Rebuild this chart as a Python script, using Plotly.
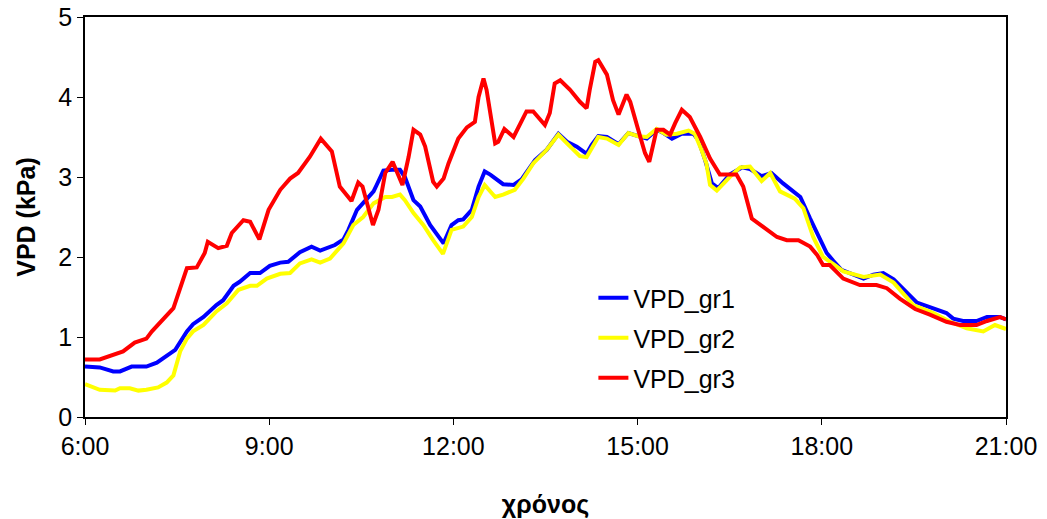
import plotly.graph_objects as go

# ---- data (hours of day, VPD in kPa) ----
t_gr1 = [6.00, 6.24, 6.46, 6.57, 6.76, 7.00, 7.17, 7.47, 7.66, 7.76, 7.93, 8.14, 8.25, 8.42, 8.52,
         8.69, 8.85, 9.01, 9.18, 9.31, 9.50, 9.69, 9.83, 10.07, 10.21, 10.29, 10.43, 10.53, 10.70,
         10.75, 10.86, 11.00, 11.13, 11.21, 11.35, 11.46, 11.62, 11.84, 11.97, 12.08, 12.16, 12.30,
         12.41, 12.51, 12.60, 12.81, 12.98, 13.11, 13.33, 13.52, 13.71, 13.85, 14.01, 14.17, 14.25,
         14.36, 14.50, 14.69, 14.85, 15.01, 15.15, 15.31, 15.42, 15.56, 15.72, 15.91, 15.99, 16.10,
         16.21, 16.31, 16.50, 16.70, 16.83, 17.02, 17.18, 17.37, 17.65, 17.81, 18.08, 18.19, 18.32,
         18.68, 18.84, 19.00, 19.17, 19.55, 19.82, 20.03, 20.14, 20.30, 20.52, 20.69, 20.90, 21.00]
vpd_gr1 = [0.63, 0.62, 0.57, 0.57, 0.63, 0.63, 0.68, 0.84, 1.07, 1.16, 1.25, 1.40, 1.46, 1.64, 1.69,
           1.80, 1.80, 1.89, 1.93, 1.94, 2.06, 2.13, 2.08, 2.15, 2.22, 2.34, 2.59, 2.67, 2.82,
           2.90, 3.08, 3.09, 3.09, 3.00, 2.71, 2.63, 2.40, 2.17, 2.40, 2.46, 2.47, 2.59,
           2.88, 3.07, 3.03, 2.91, 2.90, 2.97, 3.21, 3.34, 3.54, 3.44, 3.38, 3.29, 3.40,
           3.51, 3.50, 3.41, 3.55, 3.51, 3.48, 3.59, 3.55, 3.48, 3.54, 3.54, 3.46, 3.21,
           2.92, 2.86, 3.03, 3.12, 3.10, 3.01, 3.05, 2.92, 2.75, 2.48, 2.05, 1.95, 1.84,
           1.73, 1.78, 1.80, 1.72, 1.43, 1.36, 1.30, 1.23, 1.20, 1.20, 1.25, 1.25, 1.22]

t_gr2 = [6.00, 6.24, 6.49, 6.57, 6.73, 6.87, 7.00, 7.19, 7.33, 7.44, 7.55, 7.66, 7.76, 7.93, 8.14,
         8.31, 8.50, 8.69, 8.80, 8.96, 9.18, 9.34, 9.50, 9.69, 9.83, 9.99, 10.21, 10.37, 10.53,
         10.70, 10.89, 11.00, 11.13, 11.21, 11.35, 11.51, 11.67, 11.83, 11.97, 12.16, 12.30, 12.41,
         12.51, 12.68, 12.81, 13.00, 13.14, 13.30, 13.52, 13.71, 13.85, 14.06, 14.17, 14.36, 14.50,
         14.69, 14.85, 15.01, 15.15, 15.31, 15.47, 15.64, 15.83, 15.93, 16.04, 16.12, 16.18, 16.29,
         16.50, 16.67, 16.83, 17.02, 17.16, 17.32, 17.56, 17.70, 17.86, 18.02, 18.19, 18.35, 18.68,
         18.95, 19.17, 19.49, 19.82, 20.09, 20.36, 20.63, 20.82, 21.00]
vpd_gr2 = [0.41, 0.34, 0.33, 0.36, 0.36, 0.33, 0.34, 0.37, 0.43, 0.52, 0.82, 0.98, 1.07, 1.15, 1.32,
           1.42, 1.59, 1.64, 1.64, 1.73, 1.79, 1.80, 1.92, 1.97, 1.93, 1.98, 2.17, 2.40, 2.50,
           2.67, 2.75, 2.75, 2.78, 2.71, 2.55, 2.40, 2.21, 2.04, 2.34, 2.38, 2.50, 2.75,
           2.90, 2.75, 2.78, 2.84, 2.98, 3.17, 3.34, 3.53, 3.42, 3.26, 3.25, 3.50, 3.48,
           3.40, 3.55, 3.51, 3.50, 3.60, 3.53, 3.54, 3.58, 3.54, 3.34, 3.17, 2.90, 2.83,
           3.00, 3.12, 3.13, 2.95, 3.05, 2.82, 2.73, 2.61, 2.25, 2.00, 1.91, 1.82, 1.75,
           1.78, 1.68, 1.40, 1.30, 1.19, 1.11, 1.07, 1.15, 1.10]

t_gr3 = [6.00, 6.24, 6.62, 6.81, 7.00, 7.09, 7.44, 7.55, 7.66, 7.82, 7.95, 8.00, 8.17, 8.31, 8.39,
         8.58, 8.69, 8.84, 8.99, 9.18, 9.34, 9.47, 9.66, 9.84, 10.02, 10.15, 10.34, 10.45, 10.52,
         10.69, 10.78, 10.89, 11.01, 11.17, 11.27, 11.35, 11.46, 11.54, 11.67, 11.73, 11.84, 11.92,
         12.08, 12.22, 12.35, 12.41, 12.49, 12.54, 12.68, 12.73, 12.83, 12.98, 13.19, 13.30, 13.49,
         13.57, 13.65, 13.74, 13.90, 14.06, 14.17, 14.22, 14.31, 14.36, 14.50, 14.60, 14.69, 14.82,
         14.88, 15.01, 15.12, 15.19, 15.31, 15.42, 15.53, 15.61, 15.72, 15.85, 16.02, 16.18, 16.34,
         16.61, 16.72, 16.86, 17.05, 17.27, 17.43, 17.62, 17.81, 17.92, 18.02, 18.13, 18.35, 18.62,
         18.89, 19.06, 19.27, 19.52, 19.76, 20.03, 20.25, 20.52, 20.69, 20.90, 21.00]
vpd_gr3 = [0.72, 0.72, 0.82, 0.93, 0.98, 1.07, 1.36, 1.63, 1.86, 1.87, 2.05, 2.19, 2.11, 2.14, 2.30,
           2.46, 2.44, 2.22, 2.59, 2.84, 2.98, 3.05, 3.25, 3.48, 3.32, 2.88, 2.70, 2.93, 2.88,
           2.40, 2.59, 3.05, 3.19, 2.90, 3.25, 3.59, 3.53, 3.38, 2.94, 2.88, 2.98, 3.17,
           3.48, 3.62, 3.69, 4.00, 4.23, 4.09, 3.42, 3.44, 3.60, 3.50, 3.82, 3.82, 3.65,
           3.80, 4.17, 4.21, 4.09, 3.94, 3.86, 4.09, 4.44, 4.46, 4.28, 3.96, 3.78, 4.03,
           3.94, 3.59, 3.30, 3.19, 3.59, 3.59, 3.53, 3.67, 3.84, 3.75, 3.50, 3.23, 3.03,
           3.03, 2.88, 2.48, 2.38, 2.25, 2.21, 2.21, 2.13, 2.03, 1.90, 1.90, 1.73, 1.65,
           1.65, 1.61, 1.48, 1.35, 1.28, 1.19, 1.15, 1.15, 1.20, 1.25, 1.22]

tick_vals = [6, 9, 12, 15, 18, 21]
tick_text = ["6:00", "9:00", "12:00", "15:00", "18:00", "21:00"]
series_names = ["VPD_gr1", "VPD_gr2", "VPD_gr3"]
series_colors = ["#0000FF", "#FFFF00", "#FF0000"]

FONT = "Liberation Sans, Arial, sans-serif"

fig = go.Figure()
data = [(t_gr1, vpd_gr1), (t_gr2, vpd_gr2), (t_gr3, vpd_gr3)]
legends = ["legend", "legend2", "legend3"]
for (t, v), name, col, lg in zip(data, series_names, series_colors, legends):
    fig.add_trace(go.Scatter(x=t, y=v, mode="lines", name=name, legend=lg, showlegend=True,
                             line=dict(color=col, width=4)))

leg_common = dict(xanchor="left", yanchor="middle", bgcolor="rgba(0,0,0,0)",
                  font=dict(family=FONT, size=25, color="black"))
fig.update_layout(
    width=1047, height=519,
    showlegend=True,
    margin=dict(l=85, r=41, t=17, b=102, autoexpand=False),
    paper_bgcolor="white", plot_bgcolor="white",
    font=dict(family=FONT, size=25, color="black"),
    legend=dict(x=0.552, y=0.2975, **leg_common),
    legend2=dict(x=0.552, y=0.1975, **leg_common),
    legend3=dict(x=0.552, y=0.0975, **leg_common),
    xaxis=dict(range=[6, 21], tickvals=tick_vals, ticktext=tick_text, automargin=False,
               showgrid=False, zeroline=False, showline=True, linecolor="black", linewidth=1.5,
               mirror=True, ticks="outside", ticklen=6, tickcolor="black",
               tickfont=dict(family=FONT, size=25),
               title=dict(text="<b>χρόνος</b>", font=dict(family=FONT, size=25), standoff=39)),
    yaxis=dict(range=[0, 5], dtick=1, showgrid=False, zeroline=False, showline=True,
               automargin=False,
               linecolor="black", linewidth=1.5, mirror=True, ticks="outside", ticklen=6,
               tickcolor="black", tickfont=dict(family=FONT, size=25),
               title=dict(text="<b>VPD (kPa)</b>", font=dict(family=FONT, size=25), standoff=16)),
)

fig.write_html("out.html")
